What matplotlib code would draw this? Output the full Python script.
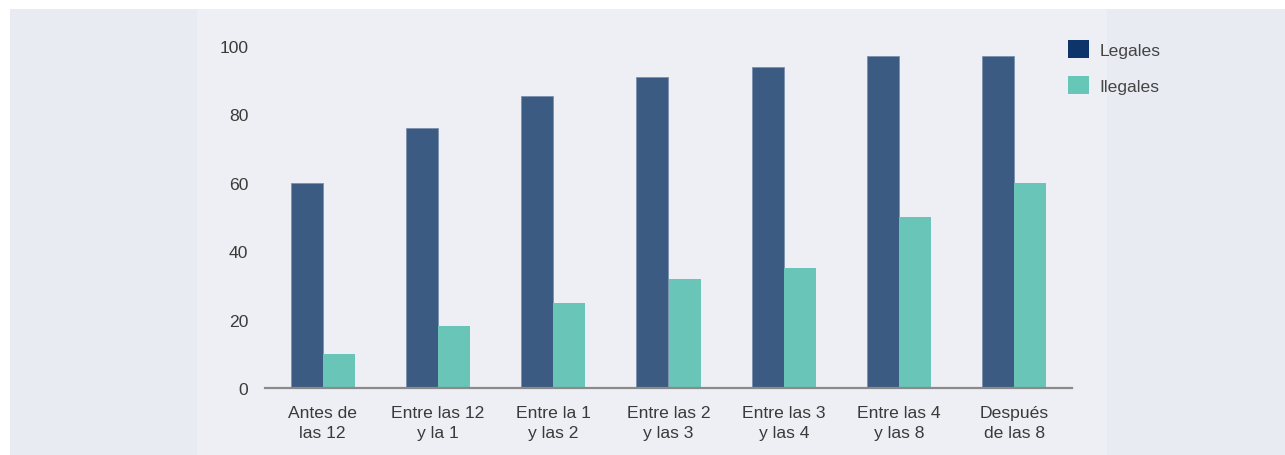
import matplotlib.pyplot as plt
import numpy as np
from matplotlib.patches import Patch, Rectangle

plt.rcParams['font.family'] = ['Liberation Sans', 'DejaVu Sans']

categorias = ['Antes de\nlas 12', 'Entre las 12\ny la 1', 'Entre la 1\ny las 2',
              'Entre las 2\ny las 3', 'Entre las 3\ny las 4', 'Entre las 4\ny las 8',
              'Después\nde las 8']
legales = [60, 76, 85.5, 91, 94, 97, 97]
ilegales = [10, 18, 25, 32, 35, 50, 60]
series = ['Legales', 'Ilegales']

W, H = 1285, 456
fig = plt.figure(figsize=(W / 100, H / 100), dpi=100, facecolor='white')

# fondos
fig.patches.append(Rectangle((10 / W, 0), 1 - 10 / W, 1 - 10 / H, transform=fig.transFigure,
                             facecolor='#e9ebf3', edgecolor='none', zorder=-2))
fig.patches.append(Rectangle((197 / W, 0), (1107 - 197) / W, 1 - 10 / H, transform=fig.transFigure,
                             facecolor='#eeeff4', edgecolor='none', zorder=-1))

ax = fig.add_axes([265 / W, 67 / H, (1072 - 265) / W, (389 - 47) / H])
ax.patch.set_alpha(0)

x = np.arange(len(categorias))
ancho = 0.278
ax.bar(x - ancho / 2, legales, ancho, color='#3b5b83', edgecolor='#7b8fae', linewidth=0.6)
ax.bar(x + ancho / 2, ilegales, ancho, color='#68c5b7', linewidth=0)

ax.set_xlim(-0.5, len(categorias) - 0.5)
ax.set_ylim(0, 100)
ax.set_yticks([0, 20, 40, 60, 80, 100])
ax.set_xticks(x)
ax.set_xticklabels(categorias, fontsize=12.6, color='#3a3a3a', linespacing=1.45)
ax.tick_params(axis='y', length=0, pad=12, labelsize=12.6, labelcolor='#3a3a3a')
ax.tick_params(axis='x', length=0, pad=12)

for s in ['top', 'right', 'left']:
    ax.spines[s].set_visible(False)
ax.spines['bottom'].set_color('#8a8a8a')
ax.spines['bottom'].set_linewidth(1.6)

handles = [Patch(facecolor='#0e3569', edgecolor='none'),
           Patch(facecolor='#66c6b8', edgecolor='none')]
fig.legend(handles, series, loc='upper left', bbox_to_anchor=(1052 / W, 1 - 25 / H),
           frameon=False, fontsize=12.6, handlelength=1.2, handleheight=1.2,
           handletextpad=0.6, labelspacing=1.05, labelcolor='#444444')

fig.savefig('out.png', dpi=100, facecolor='white')
